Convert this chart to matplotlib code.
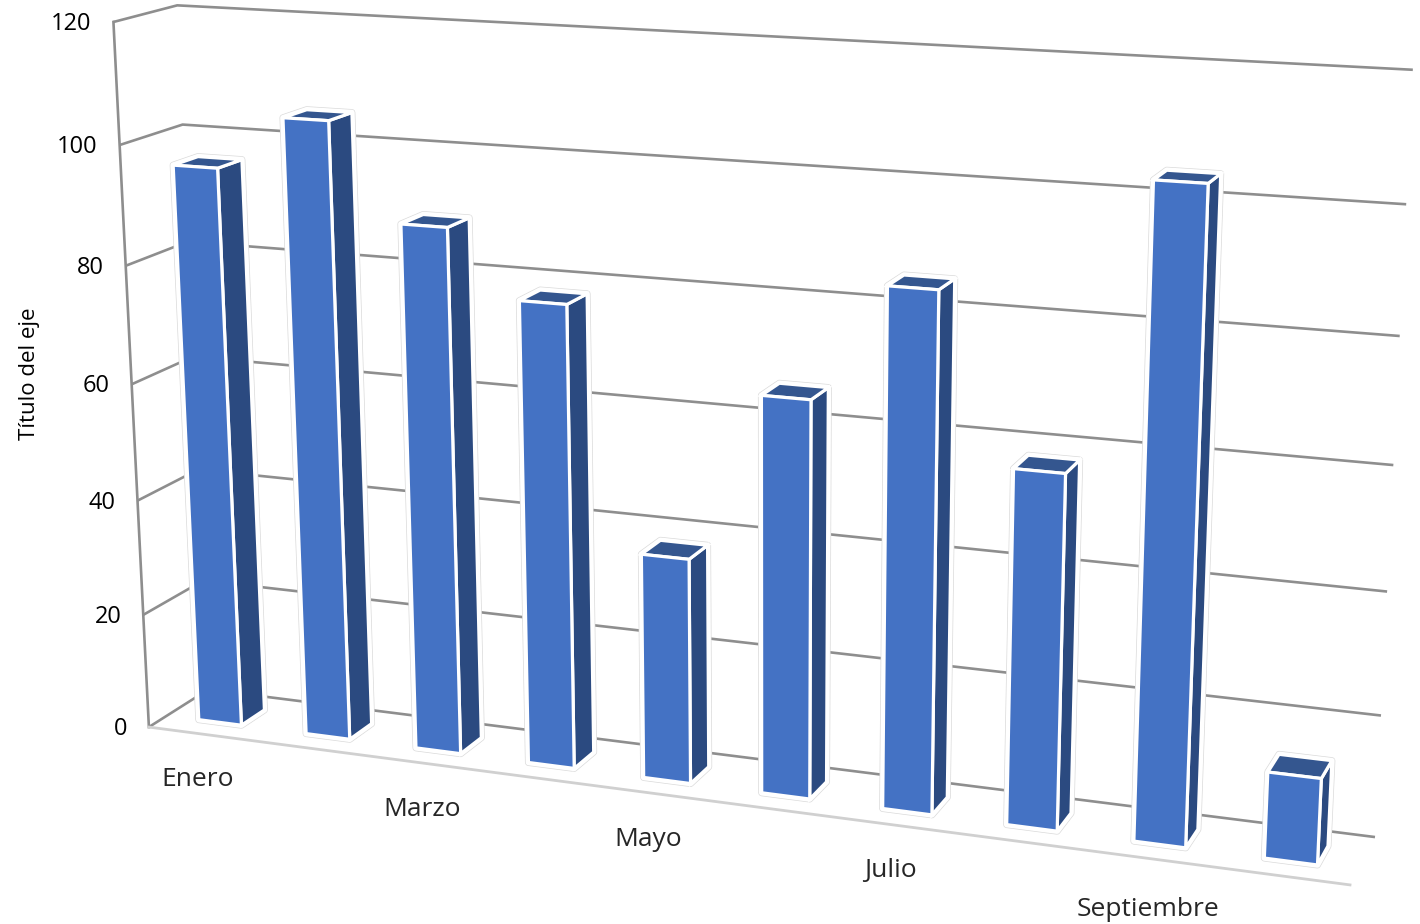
"""Excel style 3D column chart, drawn through a fitted camera projection."""

from __future__ import annotations

import matplotlib

matplotlib.use("Agg")
import matplotlib.pyplot as plt
import numpy as np
from matplotlib.patches import Polygon

months = ["Enero", "Febrero", "Marzo", "Abril", "Mayo", "Junio", "Julio", "Agosto", "Septiembre", "Octubre"]
values = [96, 105, 89, 78, 38, 66, 85, 58, 104, 14]
y_ticks = [0, 20, 40, 60, 80, 100, 120]
y_title = "Título del eje"

FRONT = "#4472C4"
SIDE = "#2B4A80"
TOP = "#34568F"
GRID = "#8E8E8E"
FLOOR = "#D0D0D0"
TEXT = "#262626"

# (category, depth, value) -> pixel: box corners, used to fit the camera
CALIBRATION = [
    ((0, 0, 0), (148, 727)),
    ((10, 0, 0), (1350, 885)),
    ((0, 1, 0), (209, 689.5)),
    ((10, 1, 0), (1375, 837)),
    ((0, 0, 120), (113, 22)),
    ((0, 1, 120), (177, 5)),
    ((10, 1, 120), (1413, 70)),
    ((0, 0, 100), (121, 145)),
    ((0, 1, 100), (182, 125)),
    ((10, 1, 100), (1406, 204)),
]

# centre of each month label that is shown, in pixels
LABEL_POS = {0: (198, 780), 2: (422, 809), 4: (648, 840), 6: (890, 870), 8: (1148, 909)}


def fit_camera(pairs):
    rows = []
    for (x, y, z), (u, v) in pairs:
        rows.append([x, y, z, 1, 0, 0, 0, 0, -u * x, -u * y, -u * z, -u])
        rows.append([0, 0, 0, 0, x, y, z, 1, -v * x, -v * y, -v * z, -v])
    scale = np.array([0.1, 1, 1 / 120, 1] * 3)
    _, _, vt = np.linalg.svd(np.array(rows, dtype=float) * scale)
    return (vt[-1] * scale).reshape(3, 4)


CAMERA = fit_camera(CALIBRATION)


def project(x, y, z):
    p = CAMERA @ np.array([x, y, z, 1.0])
    return p[:2] / p[2]


def draw_walls(ax):
    for tick in y_ticks:
        pts = np.array([project(0, 0, tick), project(0, 1, tick), project(10, 1, tick)])
        ax.plot(pts[:, 0], pts[:, 1], color=GRID, lw=1.9, solid_capstyle="butt", zorder=1)
        lx, ly = project(0, 0, tick)
        ax.text(lx - 22, ly + 2, str(tick), ha="right", va="center", fontsize=17, color="black")
    edge = np.array([project(0, 0, 0), project(0, 0, 120)])
    ax.plot(edge[:, 0], edge[:, 1], color=GRID, lw=1.9, zorder=2)
    floor = np.array([project(0, 0, 0), project(10, 0, 0)])
    ax.plot(floor[:, 0], floor[:, 1], color=FLOOR, lw=2.0, zorder=2)


def draw_bar(ax, idx, value, width=0.4, depth=0.4):
    x0, x1 = idx + (1 - width) / 2, idx + (1 + width) / 2
    y0, y1 = (1 - depth) / 2, (1 + depth) / 2
    front = [project(x0, y0, 0), project(x0, y0, value), project(x1, y0, value), project(x1, y0, 0)]
    side = [project(x1, y0, 0), project(x1, y0, value), project(x1, y1, value), project(x1, y1, 0)]
    top = [project(x0, y0, value), project(x0, y1, value), project(x1, y1, value), project(x1, y0, value)]
    hull = [front[0], front[1], top[1], top[2], side[3], front[3]]
    ax.add_patch(Polygon(hull, closed=True, fc="white", ec="#DADADA", lw=5.0, joinstyle="round", zorder=3))
    ax.add_patch(Polygon(hull, closed=True, fc="white", ec="white", lw=4.0, joinstyle="round", zorder=3))
    for face, color in ((side, SIDE), (top, TOP), (front, FRONT)):
        ax.add_patch(Polygon(face, closed=True, fc=color, ec="white", lw=2.3, joinstyle="miter", zorder=4))


def main():
    plt.rcParams["font.family"] = ["Open Sans", "DejaVu Sans"]
    fig = plt.figure(figsize=(14.2, 9.24), dpi=100)
    ax = fig.add_axes([0, 0, 1, 1])
    ax.set_xlim(0, 1420)
    ax.set_ylim(924, 0)
    ax.axis("off")

    draw_walls(ax)
    for idx, value in enumerate(values):
        draw_bar(ax, idx, value)

    # only every other month gets a label, like the Excel axis
    for idx, (lx, ly) in LABEL_POS.items():
        ax.text(lx, ly, months[idx], ha="center", va="center", fontsize=19, color=TEXT)

    ax.text(29, 374, y_title, rotation=90, ha="center", va="center", fontsize=16, color="black")
    fig.savefig("out.png", dpi=100)


main()
